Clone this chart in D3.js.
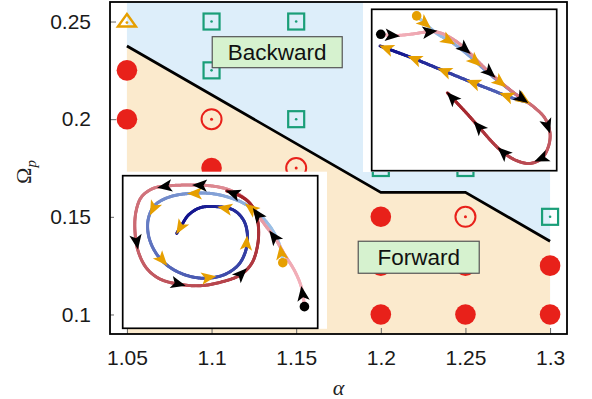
<!DOCTYPE html>
<html><head><meta charset="utf-8">
<script src="https://cdn.jsdelivr.net/npm/d3@7"></script>
<style>body{margin:0;background:#fff}svg{display:block}</style>
</head><body>
<svg id="c" width="592" height="399"></svg>
<script>
// ---------------- data ----------------
const alphaTicks = [1.05, 1.1, 1.15, 1.2, 1.25, 1.3];
const alphaTickLabels = ["1.05", "1.1", "1.15", "1.2", "1.25", "1.3"];
const omegaTicks = [0.1, 0.15, 0.2, 0.25];
const omegaTickLabels = ["0.1", "0.15", "0.2", "0.25"];

// boundary between backward (upper) and forward (lower) regions
const boundaryAlpha = [1.05, 1.2, 1.25, 1.3];
const boundaryOmega = [0.2375, 0.1625, 0.1625, 0.1375];

// simulation outcomes
const forwardPts = [[1.05,0.225],[1.05,0.2],[1.1,0.175],[1.2,0.15],[1.2,0.125],[1.25,0.125],[1.2,0.1],[1.25,0.1],[1.3,0.125],[1.3,0.1]];
const forwardOpenPts = [[1.1,0.2],[1.15,0.175],[1.25,0.15]];
const backwardPts = [[1.1,0.25],[1.15,0.25],[1.1,0.225],[1.15,0.2],[1.2,0.175],[1.25,0.175],[1.3,0.15]];
const otherPts = [[1.05,0.25]];

const regionLabels = ["Backward", "Forward"];

// inset trajectories (inset units 0..100)
const upperRedTraj = [[4.9,84.5],[11.7,83.7],[20.7,84.5],[32.4,86.2],[37.8,85.1],[45.9,80.0],[53.2,72.7],[61.3,63.4],[69.4,55.2],[78.4,46.9],[87.4,39.7],[93.7,32.4],[96.4,23.1],[95.5,14.9],[91.9,7.6],[85.6,4.5],[78.4,6.2],[71.2,11.2],[65.8,16.9],[58.6,26.2],[51.4,35.5],[40.9,48.3]];
const upperRedArrows = [0.9, 2.9, 5.6, 7.3, 9.3, 11.5, 14.0, 17.0, 19.1, 21];
const upperBlueTraj = [[24.3,95.9],[28.8,91.3],[35.1,85.1],[44.1,78.9],[53.2,70.7],[62.2,61.4],[71.2,53.1],[78.4,46.9],[83.8,42.8],[74.8,45.5],[65.8,49.6],[53.2,55.2],[38.7,62.0],[22.5,69.6],[4.5,77.3]];
const upperBlueArrows = [1.0, 2.7, 4.3, 5.8, 7.7, 9.2, 10.85, 11.95, 12.95, 14];

const lowerRedTraj = [[93.2,14.2],[91.8,26.2],[88.4,37.1],[83.2,48.0],[78.1,59.0],[73.0,67.7],[68.7,75.3],[65.3,81.9],[60.2,87.3],[53.3,91.3],[44.8,93.4],[34.5,93.9],[24.3,93.4],[15.7,91.7],[9.7,86.2],[6.8,76.4],[6.3,63.3],[8.0,50.2],[12.3,39.3],[19.1,32.3],[29.4,28.8],[39.7,27.9],[49.9,30.1],[60.2,34.9],[66.2,42.6],[69.2,54.6],[69.6,66.6],[67.9,76.4],[64.4,83.0],[59.3,87.3],[53.3,90.0]];
const lowerRedArrows = [0.7, 4.1, 5.9, 10.5, 12.3, 16.5, 19.9, 23.1, 30];
const lowerBlueTraj = [[82.1,43.0],[81.0,52.4],[77.3,63.3],[71.3,73.1],[63.6,80.8],[55.0,85.6],[44.8,88.4],[34.5,88.4],[24.3,86.2],[16.6,80.8],[13.2,72.1],[13.2,61.1],[16.6,50.2],[22.6,41.5],[31.1,35.4],[41.4,32.8],[51.6,34.9],[59.3,41.5],[63.2,51.3],[63.9,62.2],[61.9,71.0],[56.8,77.5],[48.2,79.7],[39.7,79.0],[33.7,74.2],[30.3,67.7],[27.7,62.2]];
const lowerBlueArrows = [0.7, 3.7, 6.75, 9.25, 12.6, 15.25, 18.4, 21.5, 26];

// ---------------- drawing ----------------
const svg = d3.select("#c");
const FONT = "'Liberation Sans', Arial, Helvetica, sans-serif";
const SERIF = "'Liberation Serif', 'DejaVu Serif', serif";
const x = d3.scaleLinear().domain([1.04, 1.31]).range([110, 567]);
const y = d3.scaleLinear().domain([0.09, 0.26]).range([334, 2]);

const [a0, a1] = d3.extent(alphaTicks);
// background regions
svg.append("rect").attr("x", x(a0)).attr("y", y(0.26)).attr("width", x(a1) - x(a0))
  .attr("height", y(0.09) - y(0.26)).attr("fill", "#ddeefa");
const poly = boundaryAlpha.map((a, i) => [x(a), y(boundaryOmega[i])])
  .concat([[x(a1), y(0.09)], [x(a0), y(0.09)]]);
svg.append("path").attr("d", d3.line()(poly) + "Z").attr("fill", "#fbeacd");

// axes (inward ticks)
const gx = svg.append("g").attr("transform", `translate(0,${y(0.09)})`)
  .call(d3.axisBottom(x).tickValues(alphaTicks).tickFormat((d, i) => alphaTickLabels[i]).tickSize(-6).tickPadding(16));
const gy = svg.append("g").attr("transform", `translate(${x(1.04)},0)`)
  .call(d3.axisLeft(y).tickValues(omegaTicks).tickFormat((d, i) => omegaTickLabels[i]).tickSize(-6).tickPadding(19));
[gx, gy].forEach(g => {
  g.select(".domain").remove();
  g.selectAll(".tick line").attr("stroke", "#666").attr("stroke-width", 1);
  g.selectAll(".tick text").attr("font-family", FONT).attr("font-size", 21).attr("fill", "#1a1a1a");
});

// boundary
svg.append("path").attr("d", d3.line()(boundaryAlpha.map((a, i) => [x(a), y(boundaryOmega[i])])))
  .attr("fill", "none").attr("stroke", "#000").attr("stroke-width", 2.8);

const RED = "#e8211a", GREEN = "#1a9e78", ORANGE = "#e69f00";
// markers
svg.selectAll(".fw").data(forwardPts).join("circle")
  .attr("cx", d => x(d[0])).attr("cy", d => y(d[1])).attr("r", 10.3).attr("fill", RED);
const fo = svg.selectAll(".fo").data(forwardOpenPts).join("g")
  .attr("transform", d => `translate(${x(d[0])},${y(d[1])})`);
fo.append("circle").attr("r", 10).attr("fill", "none").attr("stroke", RED).attr("stroke-width", 2);
fo.append("circle").attr("r", 1.5).attr("fill", RED);
const bw = svg.selectAll(".bw").data(backwardPts).join("g")
  .attr("transform", d => `translate(${x(d[0])},${y(d[1])})`);
bw.append("rect").attr("x", -8).attr("y", -8).attr("width", 16).attr("height", 16)
  .attr("fill", "none").attr("stroke", GREEN).attr("stroke-width", 2.2);
bw.append("circle").attr("r", 1.3).attr("fill", GREEN);
const ot = svg.selectAll(".ot").data(otherPts).join("g")
  .attr("transform", d => `translate(${x(d[0])},${y(d[1])})`);
ot.append("path").attr("d", "M0,-7.5L9,5L-9,5Z").attr("fill", "none").attr("stroke", ORANGE)
  .attr("stroke-width", 2.4).attr("stroke-linejoin", "miter");
ot.append("circle").attr("r", 1.4).attr("cy", 1).attr("fill", ORANGE);

// region labels
const labelPos = [{a: 1.1388, o: 0.2343, w: 130, h: 31}, {a: 1.2224, o: 0.1293, w: 121, h: 32}];
regionLabels.forEach((t, i) => {
  const p = labelPos[i], cx = x(p.a), cy = y(p.o);
  svg.append("rect").attr("x", cx - p.w / 2).attr("y", cy - p.h / 2).attr("width", p.w).attr("height", p.h)
    .attr("fill", "#d6f2cf").attr("stroke", "#555").attr("stroke-width", 1.2);
  svg.append("text").attr("x", cx).attr("y", cy + 8).attr("text-anchor", "middle")
    .attr("font-family", FONT).attr("font-size", 22.5).attr("fill", "#111").text(t);
});

// insets
function drawInset(fr, bg, trajs) {
  const ix = d3.scaleLinear([0, 100], [fr.x0, fr.x1]);
  const iy = d3.scaleLinear([0, 100], [fr.y1, fr.y0]);
  svg.append("rect").attr("x", bg.x0).attr("y", bg.y0).attr("width", bg.x1 - bg.x0).attr("height", bg.y1 - bg.y0).attr("fill", "#fff");
  svg.append("rect").attr("x", fr.x0).attr("y", fr.y0).attr("width", fr.x1 - fr.x0).attr("height", fr.y1 - fr.y0)
    .attr("fill", "#fff").attr("stroke", "#000").attr("stroke-width", 1.7);
  const line = d3.line().curve(d3.curveCatmullRom.alpha(0.5));
  const arrowLayer = [];
  trajs.forEach(tr => {
    const pts = tr.pts.map(p => [ix(p[0]), iy(p[1])]);
    const tmp = svg.append("path").attr("d", line(pts)).attr("fill", "none");
    const node = tmp.node(), L = node.getTotalLength(), n = Math.ceil(L / 1.2);
    const s = d3.range(n + 1).map(k => node.getPointAtLength(L * k / n));
    tmp.remove();
    const col = d3.interpolateRgb(tr.c0, tr.c1);
    const g = svg.append("g");
    for (let k = 0; k < n; k++) {
      g.append("line").attr("x1", s[k].x).attr("y1", s[k].y).attr("x2", s[k + 1].x).attr("y2", s[k + 1].y)
        .attr("stroke", col(k / n)).attr("stroke-width", 3).attr("stroke-linecap", "round");
    }
    arrowLayer.push({pts, arrows: tr.arrows, color: tr.arrowColor, dot: tr.dotColor});
  });
  arrowLayer.forEach(a => {
    const pts = a.pts, last = pts.length - 1;
    a.arrows.forEach(t => {
      const i = Math.min(Math.floor(t), last - 1), f = t - i;
      const p0 = pts[i], p1 = pts[i + 1];
      let px = p0[0] + (p1[0] - p0[0]) * f, py = p0[1] + (p1[1] - p0[1]) * f;
      const ang = Math.atan2(p1[1] - p0[1], p1[0] - p0[0]);
      if (t >= last) { px -= 7 * Math.cos(ang); py -= 7 * Math.sin(ang); }
      svg.append("path").attr("d", "M8,0L-7,-6.2L-3.5,0L-7,6.2Z")
        .attr("transform", `translate(${px},${py}) rotate(${ang * 180 / Math.PI})`)
        .attr("fill", a.color);
    });
    svg.append("circle").attr("cx", pts[0][0]).attr("cy", pts[0][1]).attr("r", 4.8).attr("fill", a.dot);
  });
}

drawInset({x0: 371.7, x1: 556.7, y0: 9.3, y1: 170.7}, {x0: 363, x1: 567, y0: 2, y1: 172},
  [{pts: upperBlueTraj, c0: "#a9d0ee", c1: "#0c0c8a", arrows: upperBlueArrows, arrowColor: ORANGE, dotColor: ORANGE},
   {pts: upperRedTraj, c0: "#f7b8c2", c1: "#a11f26", arrows: upperRedArrows, arrowColor: "#000", dotColor: "#000"}]);
drawInset({x0: 122.7, x1: 317.7, y0: 175.7, y1: 328.3}, {x0: 114, x1: 327, y0: 171.7, y1: 328.8},
  [{pts: lowerBlueTraj, c0: "#a9d0ee", c1: "#0c0c8a", arrows: lowerBlueArrows, arrowColor: ORANGE, dotColor: ORANGE},
   {pts: lowerRedTraj, c0: "#f7b8c2", c1: "#a11f26", arrows: lowerRedArrows, arrowColor: "#000", dotColor: "#000"}]);

// frame
svg.append("rect").attr("x", x(1.04)).attr("y", y(0.26)).attr("width", x(1.31) - x(1.04)).attr("height", y(0.09) - y(0.26))
  .attr("fill", "none").attr("stroke", "#000").attr("stroke-width", 1.8);

// axis labels
svg.append("text").attr("x", (x(1.04) + x(1.31)) / 2).attr("y", 395).attr("text-anchor", "middle")
  .attr("font-family", SERIF).attr("font-style", "italic").attr("font-size", 22).attr("fill", "#222").text("α");
const yl = svg.append("text").attr("transform", "translate(31,172) rotate(-90)").attr("text-anchor", "middle")
  .attr("font-family", SERIF).attr("font-size", 22).attr("fill", "#222");
yl.append("tspan").text("Ω");
yl.append("tspan").attr("font-size", 15).attr("font-style", "italic").attr("dy", 5).text("p");
</script>
</body></html>
